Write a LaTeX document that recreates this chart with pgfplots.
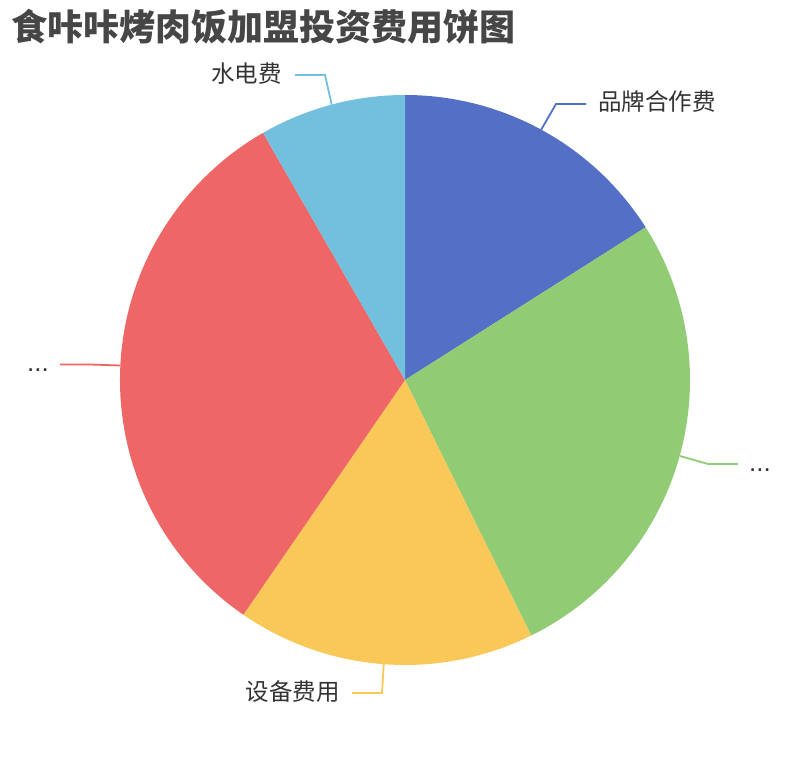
\documentclass[border=0pt]{standalone}
\usepackage{pgfplots}
\usepackage{pgfplotstable}
\pgfplotsset{compat=1.18}
\usepackage{fontspec}
\setmainfont{Liberation Sans}
\newfontfamily\cjk{Noto Sans CJK SC}

\definecolor{c0}{HTML}{5470C6}
\definecolor{c1}{HTML}{91CC75}
\definecolor{c2}{HTML}{FAC858}
\definecolor{c3}{HTML}{EE6666}
\definecolor{c4}{HTML}{73C0DE}
\definecolor{titlegray}{HTML}{464646}
\definecolor{labelgray}{HTML}{333333}

% shares of the pie, clockwise from 12 o'clock
\pgfplotstableread[col sep=comma]{
label,value
品牌合作费,16.0
...,26.7
设备费用,16.9
...,32.1
水电费,8.3
}\piedata

\begin{document}
\begin{tikzpicture}
\begin{axis}[
  width=810pt, height=760pt, scale only axis,
  xmin=0, xmax=810, ymin=0, ymax=760,
  hide axis, clip=false,
]
\path (axis cs:0,0) rectangle (axis cs:810,760);

\pgfplotstablegetrowsof{\piedata}
\pgfmathtruncatemacro\N{\pgfplotsretval-1}
\def\cum{0}
\pgfplotsforeachungrouped \i in {0,...,\N}{
  \pgfplotstablegetelem{\i}{value}\of\piedata
  \pgfmathsetmacro\a{90-3.6*\cum}
  \pgfmathsetmacro\cum{\cum+\pgfplotsretval}
  \pgfmathsetmacro\b{90-3.6*\cum}
  \pgfmathsetmacro\px{405+285*cos(\a)}
  \pgfmathsetmacro\py{380+285*sin(\a)}
  \edef\temp{\noexpand\fill[c\i] (axis cs:405,380) -- (axis cs:\px,\py)
    arc[start angle=\a, end angle=\b, radius=285pt] -- cycle;}
  \temp
}

% label lines
\draw[c0, line width=1.8pt] (axis cs:541,630) -- (axis cs:556,656) -- (axis cs:586,656);
\draw[c1, line width=1.8pt] (axis cs:680,304) -- (axis cs:708,296) -- (axis cs:738,296);
\draw[c2, line width=1.8pt] (axis cs:384,100) -- (axis cs:382,67) -- (axis cs:352,67);
\draw[c3, line width=1.8pt] (axis cs:120,394.5) -- (axis cs:90,395.5) -- (axis cs:60,395.5);
\draw[c4, line width=1.8pt] (axis cs:332,654) -- (axis cs:325,685) -- (axis cs:295,685);

% labels
\begin{scope}[every node/.style={inner sep=0pt, text=labelgray, font=\cjk\fontsize{23.5}{26}\selectfont}]
\node[anchor=west] at (axis cs:598,658.5) {品牌合作费};
\node[anchor=base west, font=\fontsize{26}{28}\selectfont] at (axis cs:749,288.5) {...};
\node[anchor=east] at (axis cs:340,68) {设备费用};
\node[anchor=base east, font=\fontsize{26}{28}\selectfont] at (axis cs:49,388) {...};
\node[anchor=east] at (axis cs:282,686) {水电费};
\end{scope}

% title
\node[anchor=west, inner sep=0pt, text=titlegray,
  font=\cjk\bfseries\fontsize{36}{40}\selectfont] at (axis cs:11,733) {食咔咔烤肉饭加盟投资费用饼图};
\end{axis}
\end{tikzpicture}
\end{document}
